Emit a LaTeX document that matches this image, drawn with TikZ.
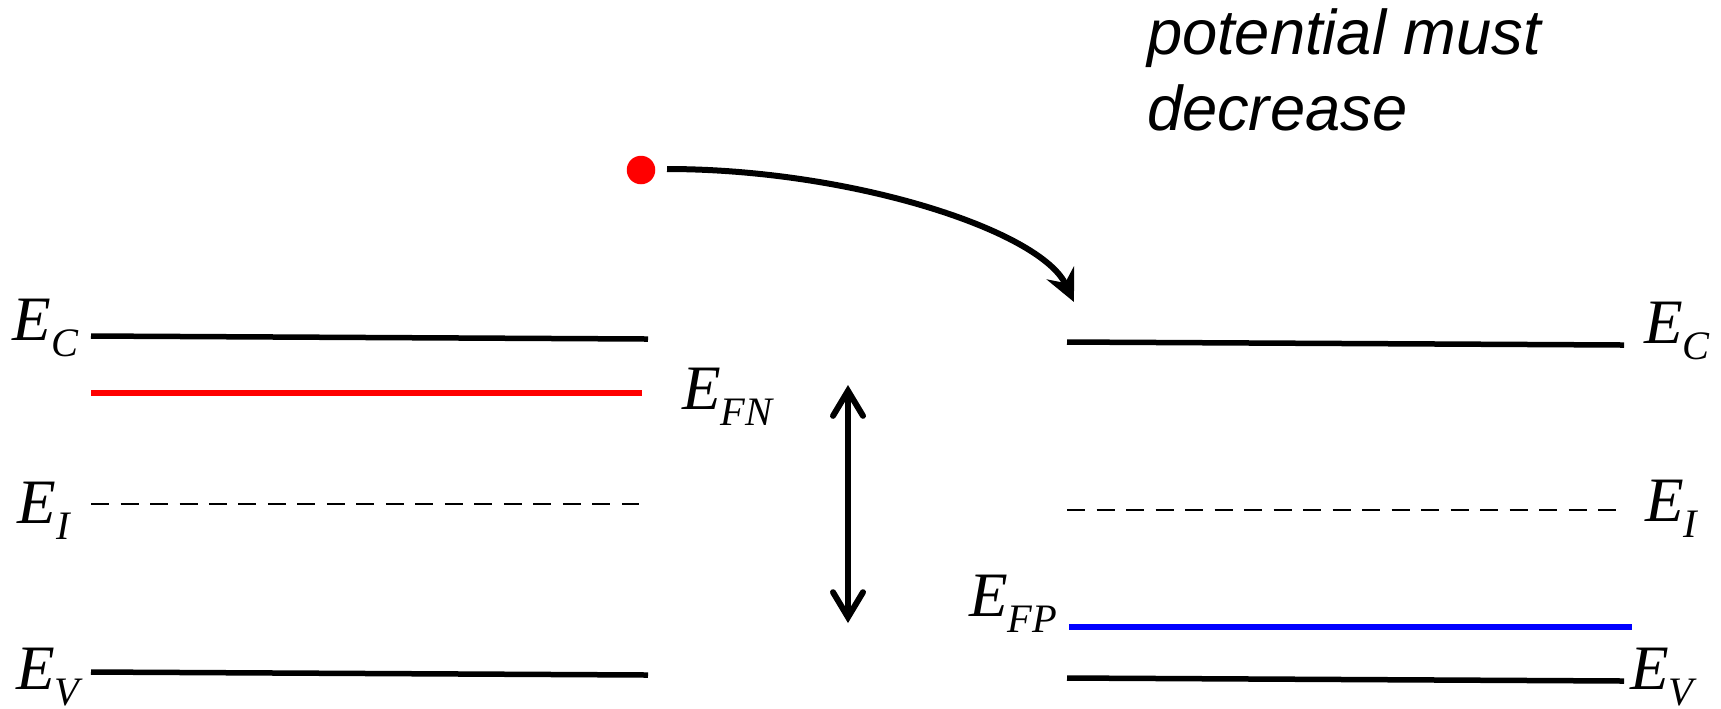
\documentclass[tikz,border=0pt]{standalone}
\usepackage{fontspec}
\setmainfont{Liberation Serif}
\newfontfamily\arialfont{Liberation Sans}
\usetikzlibrary{arrows.meta}
\newcommand{\Elab}[1]{{\fontsize{18pt}{18pt}\selectfont\itshape E}\raisebox{-4.8pt}{\fontsize{11.5pt}{11.5pt}\selectfont\itshape #1}}
\begin{document}
\begin{tikzpicture}[x=0.1mm,y=-0.1mm,
  level/.style={line width=0.55mm},
  midlevel/.style={line width=0.28mm, dash pattern=on 1.8mm off 1.15mm},
  lbl/.style={anchor=base west, inner sep=0, outer sep=0},
  note/.style={anchor=base west, inner sep=0, outer sep=0, font=\arialfont\itshape\fontsize{18pt}{21pt}\selectfont},
  conn/.style={line width=0.6mm},
  ]
\useasboundingbox (0,0) rectangle (1721,708);
% left band
\draw[level] (91,336) -- (648,339);
\draw[level, red] (91,393) -- (642,393);
\draw[midlevel] (91,504) -- (639,504);
\draw[level] (91,672) -- (648,675);
% right band
\draw[level] (1067,342) -- (1624,345);
\draw[midlevel] (1067,510) -- (1616,510);
\draw[level, blue] (1069,627) -- (1632,627);
\draw[level] (1067,678) -- (1624,681);
% labels
\node[lbl] (lEC) at (13,340) {\Elab{C}};
\node[lbl] (lEI) at (18,523) {\Elab{I}};
\node[lbl] (lEV) at (16,689) {\Elab{V}};
\node[lbl] (EFN) at (682,409) {\Elab{FN}};
\node[lbl] (EFP) at (969,616) {\Elab{FP}};
\node[lbl] (rEC) at (1644,343) {\Elab{C}};
\node[lbl] (rEI) at (1645,521) {\Elab{I}};
\node[lbl] (rEV) at (1630,689) {\Elab{V}};
% note
\node[note] (txt1) at (1147,54) {potential must};
\node[note] (txt2) at (1147,130) {decrease};
% electron and its path
\node[circle, fill=red, inner sep=0, minimum size=2.85mm] (dot) at (641,170) {};
\coordinate (cstart) at (667,169);
\coordinate (ctip) at (1074,302);
\draw[conn, -{Stealth[length=3.2mm,width=3mm,inset=1.1mm]}] (cstart) .. controls (850,169) and (1040,230) .. (ctip);
% double arrow
\coordinate (dtop) at (848,385);
\coordinate (dbot) at (848,623);
\draw[conn, line cap=round, {Straight Barb[length=2.5mm,width=3mm,line cap=round]}-{Straight Barb[length=2.5mm,width=3mm,line cap=round]}] (dtop) -- (dbot);
\end{tikzpicture}
\end{document}
